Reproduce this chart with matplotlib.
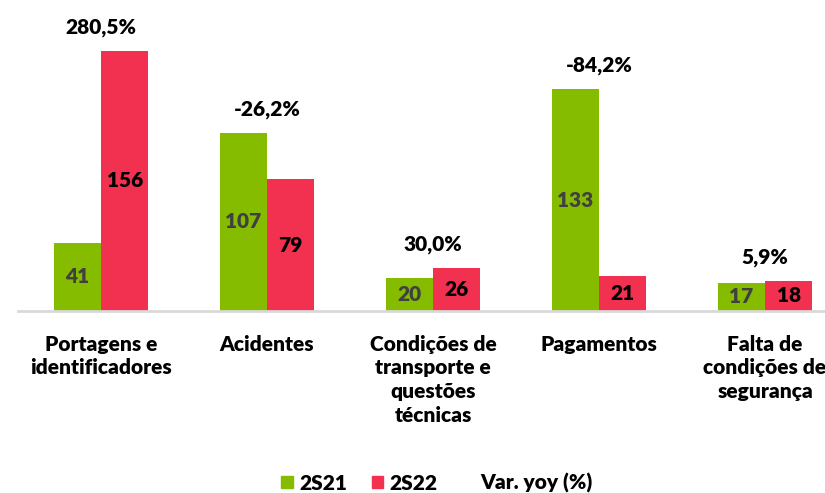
import matplotlib
matplotlib.use("Agg")
import matplotlib.pyplot as plt
from matplotlib.patches import Patch
import numpy as np

categories = ["Portagens e\nidentificadores", "Acidentes", "Condições de\ntransporte e\nquestões\ntécnicas",
              "Pagamentos", "Falta de\ncondições de\nsegurança"]
s2s21 = [41, 107, 20, 133, 17]
s2s22 = [156, 79, 26, 21, 18]
var_yoy = ["280,5%", "-26,2%", "30,0%", "-84,2%", "5,9%"]
series_names = ["2S21", "2S22", "Var. yoy (%)"]

GREEN = "#85BC00"
RED = "#F2304F"
FONT = "Lato"
WT = 'heavy'
plt.rcParams['font.family'] = [FONT, 'DejaVu Sans']
plt.rcParams['font.weight'] = WT

W, H = 825, 493
fig = plt.figure(figsize=(W / 100, H / 100), dpi=100)
base_y = 311
ax = fig.add_axes([18 / W, (H - base_y) / H, 830 / W, base_y / H])

x = np.arange(len(categories))
bw = 0.285
b1 = ax.bar(x - bw / 2, s2s21, bw, color=GREEN, zorder=2)
b2 = ax.bar(x + bw / 2, s2s22, bw, color=RED, zorder=2)

ax.set_xlim(-0.5, len(categories) - 0.5)
ax.set_ylim(0, base_y / 1.667)

fs = 15
for r, v in zip(b1, s2s21):
    ax.text(r.get_x() + r.get_width() / 2, v / 2, str(v), ha='center', va='center',
            fontsize=fs, fontweight=WT, color='#404040')
for r, v in zip(b2, s2s22):
    ax.text(r.get_x() + r.get_width() / 2, v / 2, str(v), ha='center', va='center',
            fontsize=fs, fontweight=WT, color='black')
for i, lab in enumerate(var_yoy):
    top = max(s2s21[i], s2s22[i])
    ax.annotate(lab, (x[i], top), xytext=(0, 10), textcoords='offset points',
                ha='center', va='bottom', fontsize=fs, fontweight=WT, color='black')

for s in ['top', 'right', 'left']:
    ax.spines[s].set_visible(False)
ax.spines['bottom'].set_color('#D9D9D9')
ax.spines['bottom'].set_linewidth(2)
ax.set_yticks([])
ax.set_xticks(x)
ax.set_xticklabels(categories, fontsize=fs, fontweight=WT, linespacing=1.3)
ax.tick_params(axis='x', length=0, pad=17)

handles = [Patch(color=GREEN), Patch(color=RED), Patch(color='none')]
leg = fig.legend(handles, series_names, loc='center', bbox_to_anchor=(437 / W, 1 - 483 / H),
                 ncol=3, frameon=False, prop={'family': FONT, 'weight': WT, 'size': fs},
                 handlelength=0.55, handleheight=0.55, handletextpad=0.3, columnspacing=1.2)

fig.savefig("out.png", dpi=100)
